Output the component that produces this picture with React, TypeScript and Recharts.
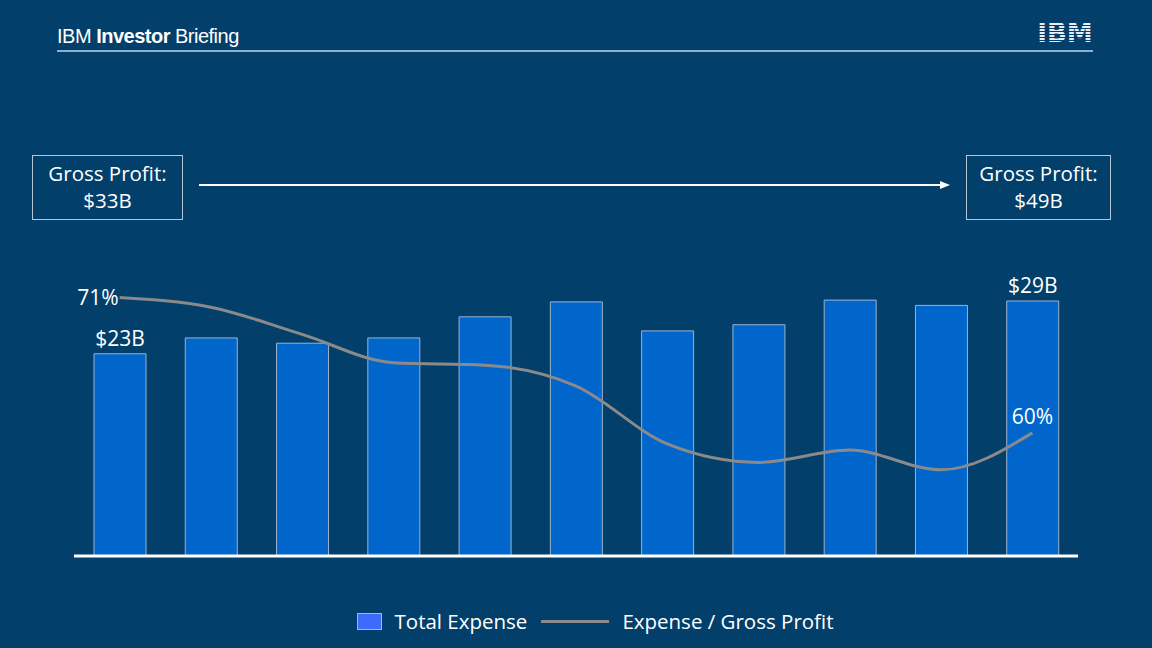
import React from "react";
import {
  ComposedChart,
  Bar,
  Line,
  XAxis,
  YAxis,
  Legend,
  LabelList,
  ReferenceLine,
} from "recharts";

// quarters left to right, no labels shown on the slide
const periods = ["P1", "P2", "P3", "P4", "P5", "P6", "P7", "P8", "P9", "P10", "P11"];
// total expense, $B
const totalExpense = [23, 24.8, 24.2, 24.8, 27.2, 28.9, 25.6, 26.3, 29.1, 28.5, 29];
// expense / gross profit, %
const expenseRatio = [71, 70.2, 68.0, 65.7, 65.5, 63.8, 59.1, 57.6, 58.6, 57.0, 60];

const startProfit = "$33B";
const endProfit = "$49B";

const BG = "#023f6b";
const FONT = "'Open Sans', 'Noto Sans', sans-serif";

const data = periods.map((p, i) => ({
  period: p,
  expense: totalExpense[i],
  ratio: expenseRatio[i],
}));

const last = periods.length - 1;

function BarLabel(props: any) {
  const { x, y, width, index, value } = props;
  if (index !== 0 && index !== last) return null;
  return (
    <text
      x={x + width / 2}
      y={y - 8}
      textAnchor="middle"
      fill="#ffffff"
      fontSize={21}
      fontFamily={FONT}
    >
      ${value}B
    </text>
  );
}

function LineLabel(props: any) {
  const { x, y, index, value } = props;
  if (index === 0) {
    return (
      <text x={x - 1} y={y + 8} textAnchor="end" fill="#ffffff" fontSize={21} fontFamily={FONT}>
        {value}%
      </text>
    );
  }
  if (index === last) {
    return (
      <text x={x} y={y - 9} textAnchor="middle" fill="#ffffff" fontSize={21} fontFamily={FONT}>
        {value}%
      </text>
    );
  }
  return null;
}

function LegendBox() {
  return (
    <div
      style={{
        display: "flex",
        alignItems: "center",
        justifyContent: "center",
        color: "#ffffff",
        fontFamily: FONT,
        fontSize: 20.5,
        height: 28,
        paddingLeft: 38,
      }}
    >
      <span
        style={{
          display: "inline-block",
          width: 23,
          height: 15,
          background: "#3c6cfb",
          border: "1px solid #a9b6c8",
          marginRight: 13,
        }}
      />
      <span style={{ marginRight: 14 }}>Total Expense</span>
      <span
        style={{
          display: "inline-block",
          width: 68,
          height: 3,
          background: "#8a8a8a",
          marginRight: 13,
        }}
      />
      <span>Expense / Gross Profit</span>
    </div>
  );
}

function ProfitBox({ left, width, value }: { left: number; width: number; value: string }) {
  return (
    <div
      style={{
        position: "absolute",
        left,
        top: 155,
        width,
        height: 65,
        boxSizing: "border-box",
        border: "1.5px solid #b8c7d6",
        color: "#ffffff",
        fontFamily: FONT,
        fontSize: 20.5,
        lineHeight: "27px",
        textAlign: "center",
        paddingTop: 4,
      }}
    >
      Gross Profit:
      <br />
      {value}
    </div>
  );
}

function IbmLogo() {
  return (
    <svg width={90} height={34} style={{ position: "absolute", left: 1020, top: 14 }}>
      <defs>
        <pattern id="stripes" width="4" height="3" patternUnits="userSpaceOnUse">
          <rect width="4" height="2" fill="#e6eef6" />
        </pattern>
      </defs>
      <text
        x={45}
        y={28}
        textAnchor="middle"
        fontFamily="'DejaVu Sans', sans-serif"
        fontWeight="bold"
        fontSize={26}
        fill="url(#stripes)"
      >
        IBM
      </text>
    </svg>
  );
}

export default function App() {
  return (
    <div
      style={{
        position: "absolute",
        left: 0,
        top: 0,
        width: 1152,
        height: 648,
        background: BG,
        overflow: "hidden",
      }}
    >
      <div
        style={{
          position: "absolute",
          left: 57,
          top: 25,
          color: "#ffffff",
          fontFamily: "'Liberation Sans', Arial, sans-serif",
          fontSize: 20,
          letterSpacing: -0.5,
        }}
      >
        IBM <b>Investor</b> Briefing
      </div>
      <div
        style={{
          position: "absolute",
          left: 57,
          top: 50,
          width: 1036,
          height: 2,
          background: "#8fb0cc",
        }}
      />
      <IbmLogo />

      <ProfitBox left={32} width={151} value={startProfit} />
      <ProfitBox left={966} width={145} value={endProfit} />
      <svg width={1152} height={40} style={{ position: "absolute", left: 0, top: 165 }}>
        <line x1={199} y1={20} x2={942} y2={20} stroke="#ffffff" strokeWidth={2} />
        <polygon points="950,20 940,16 940,24" fill="#ffffff" />
      </svg>

      <div style={{ position: "absolute", left: 0, top: 0 }}>
        <ComposedChart
          width={1152}
          height={648}
          data={data}
          margin={{ top: 250, right: 74, bottom: 64, left: 74 }}
        >
          <XAxis dataKey="period" hide />
          <YAxis yAxisId="exp" hide domain={[0, 34.8]} />
          <YAxis yAxisId="ratio" hide orientation="right" domain={[50, 74.85]} />
          <Legend
            verticalAlign="bottom"
            content={() => <LegendBox />}
            wrapperStyle={{ top: 607, left: 0, width: 1152 }}
          />
          <Bar
            yAxisId="exp"
            dataKey="expense"
            name="Total Expense"
            barSize={52}
            fill="#0066cc"
            stroke="#9db2cc"
            strokeWidth={1}
            isAnimationActive={false}
          >
            <LabelList dataKey="expense" content={BarLabel} />
          </Bar>
          <Line
            yAxisId="ratio"
            type="monotone"
            dataKey="ratio"
            name="Expense / Gross Profit"
            stroke="#8a8a8a"
            strokeWidth={3}
            dot={false}
            isAnimationActive={false}
          >
            <LabelList dataKey="ratio" content={LineLabel} />
          </Line>
          <ReferenceLine yAxisId="exp" y={0} stroke="#ffffff" strokeWidth={3} />
        </ComposedChart>
      </div>
    </div>
  );
}
